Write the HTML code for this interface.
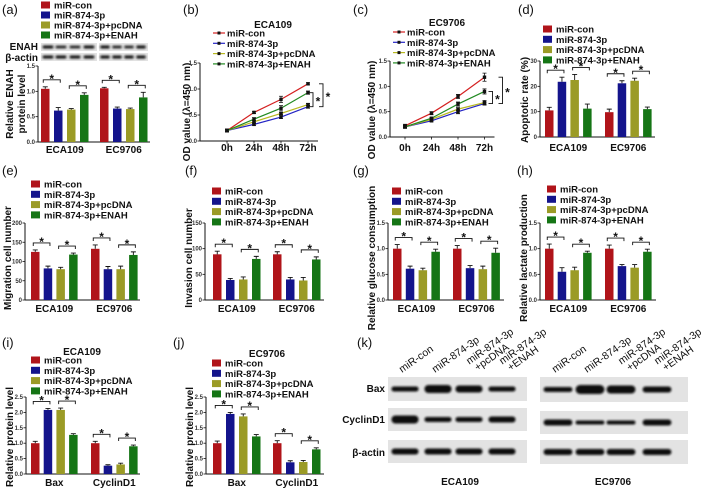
<!DOCTYPE html>
<html><head><meta charset="utf-8"><style>
html,body{margin:0;padding:0;background:#fff;}
svg{display:block;font-family:"Liberation Sans",Arial,sans-serif;}
.pl{font-size:13px;fill:#111;}
.yl{font-size:10px;font-weight:bold;fill:#111;}
.tt{font-size:10px;font-weight:bold;fill:#111;}
</style></head><body>
<svg id="fig" width="709" height="488" viewBox="0 0 709 488" xmlns="http://www.w3.org/2000/svg">
<defs><filter id="bl" x="-20%" y="-60%" width="140%" height="220%"><feGaussianBlur stdDeviation="1.1"/></filter></defs>
<rect width="709" height="488" fill="#fff"/>
<text class="pl" x="2" y="14">(a)</text>
<text class="pl" x="183" y="14">(b)</text>
<text class="pl" x="353" y="14">(c)</text>
<text class="pl" x="518" y="14">(d)</text>
<text class="pl" x="2" y="175">(e)</text>
<text class="pl" x="185" y="175">(f)</text>
<text class="pl" x="353" y="175">(g)</text>
<text class="pl" x="517" y="175">(h)</text>
<text class="pl" x="2" y="347">(i)</text>
<text class="pl" x="173" y="347">(j)</text>
<text class="pl" x="357" y="347">(k)</text>

<text class="yl" transform="translate(13,104) rotate(-90)" text-anchor="middle">Relative ENAH</text>
<text class="yl" transform="translate(25,104) rotate(-90)" text-anchor="middle">protein level</text>
<text class="yl" transform="translate(190,112) rotate(-90)" text-anchor="middle">OD value (λ=450 nm)</text>
<text class="yl" transform="translate(375,110) rotate(-90)" text-anchor="middle">OD value (λ=450 nm)</text>
<text class="yl" transform="translate(528,100) rotate(-90)" text-anchor="middle">Apoptotic rate (%)</text>
<text class="yl" transform="translate(11,258) rotate(-90)" text-anchor="middle">Migration cell number</text>
<text class="yl" transform="translate(192,258) rotate(-90)" text-anchor="middle">Invasion cell number</text>
<text class="yl" transform="translate(375,258) rotate(-90)" text-anchor="middle">Relative glucose consumption</text>
<text class="yl" transform="translate(527,258) rotate(-90)" text-anchor="middle">Relative lactate production</text>
<text class="yl" transform="translate(13,437) rotate(-90)" text-anchor="middle">Relative protein level</text>
<text class="yl" transform="translate(193,437) rotate(-90)" text-anchor="middle">Relative protein level</text>

<text class="tt" x="273" y="28" text-anchor="middle">ECA109</text>
<text class="tt" x="447" y="26" text-anchor="middle">EC9706</text>
<text class="tt" x="82" y="355" text-anchor="middle">ECA109</text>
<text class="tt" x="267" y="357" text-anchor="middle">EC9706</text>

<text class="tt" x="38" y="50" text-anchor="end">ENAH</text>
<text class="tt" x="38" y="61" text-anchor="end">β-actin</text>
<text class="tt" x="385" y="392" text-anchor="end">Bax</text>
<text class="tt" x="385" y="423" text-anchor="end">CyclinD1</text>
<text class="tt" x="385" y="456" text-anchor="end">β-actin</text>
<text class="tt" x="460" y="485" text-anchor="middle">ECA109</text>
<text class="tt" x="613" y="485" text-anchor="middle">EC9706</text>
</svg>
<script>
const NS='http://www.w3.org/2000/svg';
const svg=document.getElementById('fig');
const COLORS=['#b0141a','#14148c','#9b9b26','#157515'];
const LCOLORS=['#d42020','#2424c4','#b8b820','#228a22'];
const seriesNames=['miR-con','miR-874-3p','miR-874-3p+pcDNA','miR-874-3p+ENAH'];
const groupsCell=['ECA109','EC9706'];
const groupsProt=['Bax','CyclinD1'];
const timeLabels=['0h','24h','48h','72h'];

// (a) ENAH protein
const aCon=[1.05,1.06], aMir=[0.62,0.66], aPc=[0.64,0.65], aEnah=[0.93,0.88];
const aErr=[[0.04,0.02],[0.06,0.03],[0.02,0.02],[0.04,0.1]];
const aTicks=['0.0','0.5','1.0','1.5'];
// (b) OD ECA109
const bCon=[0.2,0.55,0.8,1.1], bMir=[0.2,0.32,0.46,0.66], bPc=[0.2,0.37,0.53,0.7], bEnah=[0.2,0.42,0.63,0.93];
const bErr=[[0.03,0.02,0.06,0.02],[0.03,0.02,0.03,0.03],[0.02,0.02,0.02,0.02],[0.02,0.03,0.05,0.03]];
const bTicks=['0.0','0.5','1.0','1.5'];
// (c) OD EC9706
const cCon=[0.22,0.47,0.8,1.18], cMir=[0.2,0.32,0.5,0.66], cPc=[0.2,0.35,0.55,0.68], cEnah=[0.2,0.37,0.65,0.9];
const cErr=[[0.03,0.03,0.04,0.08],[0.03,0.02,0.04,0.03],[0.02,0.02,0.03,0.04],[0.02,0.02,0.04,0.05]];
const cTicks=['0.0','0.5','1.0','1.5'];
// (d) apoptosis
const dCon=[10.5,9.8], dMir=[21.8,21.2], dPc=[22.5,22.2], dEnah=[11.2,11.0];
const dErr=[[1.2,1.2],[1.8,1.0],[2.2,1.0],[1.8,0.8]];
const dTicks=['0','10','20','30'];
// (e) migration
const eCon=[125,133], eMir=[82,80], ePc=[80,80], eEnah=[118,117];
const eErr=[[5,10],[6,7],[5,8],[4,8]];
const eTicks=['0','50','100','150','200'];
// (f) invasion
const fCon=[89,89], fMir=[39,40], fPc=[40,38], fEnah=[80,79];
const fErr=[[6,5],[3,4],[5,6],[5,5]];
const fTicks=['0','50','100','150'];
// (g) glucose
const gCon=[1.0,1.0], gMir=[0.61,0.62], gPc=[0.58,0.6], gEnah=[0.94,0.92];
const gErr=[[0.08,0.06],[0.05,0.05],[0.04,0.06],[0.05,0.09]];
const gTicks=['0.0','0.5','1.0','1.5'];
// (h) lactate
const hCon=[1.0,1.0], hMir=[0.55,0.66], hPc=[0.58,0.63], hEnah=[0.92,0.94];
const hErr=[[0.09,0.07],[0.08,0.03],[0.06,0.06],[0.03,0.05]];
const hTicks=['0.0','0.5','1.0','1.5'];
// (i) protein ECA109
const iCon=[1.0,1.0], iMir=[2.08,0.27], iPc=[2.08,0.31], iEnah=[1.27,0.9];
const iErr=[[0.06,0.06],[0.05,0.03],[0.06,0.04],[0.04,0.04]];
const iTicks=['0.0','0.5','1.0','1.5','2.0','2.5'];
// (j) protein EC9706
const jCon=[1.0,1.0], jMir=[1.95,0.38], jPc=[1.87,0.39], jEnah=[1.22,0.8];
const jErr=[[0.07,0.08],[0.05,0.05],[0.08,0.05],[0.06,0.05]];
const jTicks=['0.0','0.5','1.0','1.5','2.0','2.5'];

function mk(tag,attrs,parent){const e=document.createElementNS(NS,tag);for(const k in attrs)e.setAttribute(k,attrs[k]);(parent||svg).appendChild(e);return e;}
function txt(s,attrs,parent){const e=mk('text',attrs,parent);e.textContent=s;return e;}

function legend(id,x,y,dy,isLine){
  const g=mk('g',{});
  
  
  for(let s=0;s<4;s++){
    const cy=y+s*dy;
    if(isLine){
      const l=mk('line',{x1:x,x2:x+12,y1:cy,y2:cy,stroke:LCOLORS[s],'stroke-width':1.2},g);
      
      
      const m=mk('rect',{x:x+4.5,y:cy-1.5,width:3,height:3,fill:'#111'},g);
      
      
    }else{
      const r=mk('rect',{x:x,y:cy-3.5,width:9,height:7,fill:COLORS[s]},g);
      
      
    }
    const t=txt(seriesNames[s],{x:x+(isLine?14:13),y:cy+3.5,'font-size':'9.5','font-weight':'bold',fill:'#111'},g);
    
    
  }
}

function yAxis(id,ax,y0,yT,ticks,vmax){
  const g=mk('g',{});
  
  
  const l=mk('line',{x1:ax,x2:ax,y1:yT,y2:y0,stroke:'#111','stroke-width':1},g);
  
  
  ticks.forEach(function(tl){
    const v=parseFloat(tl);const y=y0-(y0-yT)*v/vmax;
    const tk=mk('line',{x1:ax-2.5,x2:ax,y1:y,y2:y,stroke:'#111','stroke-width':0.8},g);
    
    
    const t=txt(tl,{x:ax-3,y:y+2,'font-size':'6','font-weight':'bold','text-anchor':'end',fill:'#333'},g);
    
    
  });
}

function star(x,y,parent){
  const t=txt('*',{x:x,y:y,'font-size':'12','font-weight':'bold','text-anchor':'middle',fill:'#111'},parent);
  
  
}

function barChart(id,c,series,errs,groups,ticks){
  const ys=function(v){return c.y0-(c.y0-c.yT)*v/c.vmax;};
  yAxis(id,c.ax,c.y0,c.yT,ticks,c.vmax);
  const g=mk('g',{});
  
  
  const xl=mk('line',{x1:c.ax,x2:c.xEnd,y1:c.y0,y2:c.y0,stroke:'#111','stroke-width':1},g);
  
  
  groups.forEach(function(gn,gi){
    const tops=[];
    for(let s=0;s<4;s++){
      const v=series[s][gi],e=errs[s][gi];
      const x=c.gs[gi]+s*c.step, cx=x+c.bw/2;
      const b=mk('rect',{x:x,y:ys(v),width:c.bw,height:c.y0-ys(v),fill:COLORS[s]},g);
      
      
      const eb=mk('path',{d:'M'+cx+' '+ys(v)+'V'+ys(v+e)+'M'+(cx-2.5)+' '+ys(v+e)+'H'+(cx+2.5),stroke:'#111','stroke-width':0.9,fill:'none'},g);
      
      
      tops.push({cx:cx,y:ys(v+e)});
    }
    [[0,1],[2,3]].forEach(function(p){
      const ly=Math.min(tops[p[0]].y,tops[p[1]].y)-7;
      const x1=tops[p[0]].cx-2,x2=tops[p[1]].cx+2;
      const br=mk('path',{d:'M'+x1+' '+(ly+3)+'V'+ly+'H'+x2+'V'+(ly+3),stroke:'#111','stroke-width':0.9,fill:'none'},g);
      
      
      star((x1+x2)/2,ly+3,g);
    });
    const gl=txt(gn,{x:c.gs[gi]+(3*c.step+c.bw)/2,y:c.labY,'font-size':'10','font-weight':'bold','text-anchor':'middle',fill:'#111'},g);
    
    
  });
}

function lineChart(id,c,series,errs,ticks){
  const ys=function(v){return c.y0-(c.y0-c.yT)*v/c.vmax;};
  const xs=function(i){return c.x0+i*c.dx;};
  yAxis(id,c.ax,c.y0,c.yT,ticks,c.vmax);
  const g=mk('g',{});
  
  
  const xl=mk('line',{x1:c.ax,x2:xs(timeLabels.length-1)+10,y1:c.y0,y2:c.y0,stroke:'#111','stroke-width':1},g);
  
  
  timeLabels.forEach(function(tl,i){
    const tk=mk('line',{x1:xs(i),x2:xs(i),y1:c.y0,y2:c.y0+2.5,stroke:'#111','stroke-width':0.8},g);
    
    
    const t=txt(tl,{x:xs(i),y:c.labY,'font-size':'10','font-weight':'bold','text-anchor':'middle',fill:'#111'},g);
    
    
  });
  series.forEach(function(sv,s){
    const pts=sv.map(function(v,i){return xs(i)+','+ys(v);}).join(' ');
    const pl=mk('polyline',{points:pts,fill:'none',stroke:LCOLORS[s],'stroke-width':1.2},g);
    
    
    sv.forEach(function(v,i){
      const e=errs[s][i];
      const eb=mk('path',{d:'M'+xs(i)+' '+ys(v-e)+'V'+ys(v+e)+'M'+(xs(i)-2)+' '+ys(v+e)+'H'+(xs(i)+2)+'M'+(xs(i)-2)+' '+ys(v-e)+'H'+(xs(i)+2),stroke:'#111','stroke-width':0.8,fill:'none'},g);
      
      
      const m=mk('rect',{x:xs(i)-1.7,y:ys(v)-1.7,width:3.4,height:3.4,fill:'#111'},g);
      
      
    });
  });
  const last=timeLabels.length-1, lx=xs(last);
  [[3,1,c.b1],[0,1,c.b2]].forEach(function(p){
    const ya=ys(series[p[0]][last]), yb=ys(series[p[1]][last]);
    const bx=lx+p[2];
    const br=mk('path',{d:'M'+(bx-4)+' '+ya+'H'+bx+'V'+yb+'H'+(bx-4),stroke:'#111','stroke-width':0.9,fill:'none'},g);
    
    
    star(bx+5,(ya+yb)/2+6,g);
  });
}

function blotBox(id,x,y,w,h,lanes,thick){
  const g=mk('g',{});
  
  
  const r=mk('rect',{x:x,y:y,width:w,height:h,fill:'#e3e3e3'},g);
  
  
  lanes.forEach(function(cx,i){
    const bw=w/lanes.length*0.78;
    const b=mk('rect',{x:cx-bw/2,y:y+h/2-thick[i]/2,width:bw,height:thick[i],rx:thick[i]/2,fill:'#111',filter:'url(#bl)'},g);
    
    
  });
}

// legends
legend('a',41,5,10,false);
legend('b',213,33,10.3,true);
legend('c',393,32,10.3,true);
legend('d',543,29,10.3,false);
legend('e',31,184,10.3,false);
legend('f',212,191,10.3,false);
legend('g',392,191,10.3,false);
legend('h',547,189,10.3,false);
legend('i',31,360,10.3,false);
legend('j',212,363,10.3,false);

// blots (a)
blotBox('a-enah-1',41,43,56,8,[48,61,75,89],[3,2.5,2.5,3]);
blotBox('a-enah-2',99,43,49,8,[105,117,129,141],[3,2.5,2.5,3]);
blotBox('a-actin-1',41,53,56,8,[48,61,75,89],[3,3,3,3]);
blotBox('a-actin-2',99,53,49,8,[105,117,129,141],[3,3,3,3]);

barChart('a',{ax:38,y0:142,yT:66,vmax:1.5,gs:[41,100],step:13,bw:8.5,xEnd:150,labY:153},[aCon,aMir,aPc,aEnah],aErr,groupsCell,aTicks);
lineChart('b',{ax:200,y0:141,yT:63,vmax:1.5,x0:227,dx:27,labY:151,b1:5,b2:15},[bCon,bMir,bPc,bEnah],bErr,bTicks);
lineChart('c',{ax:390,y0:137,yT:61,vmax:1.5,x0:405,dx:26.5,labY:151,b1:8,b2:18},[cCon,cMir,cPc,cEnah],cErr,cTicks);
barChart('d',{ax:540,y0:137,yT:61,vmax:30,gs:[545,605],step:12.7,bw:8.5,xEnd:655,labY:151},[dCon,dMir,dPc,dEnah],dErr,groupsCell,dTicks);
barChart('e',{ax:25,y0:300,yT:223,vmax:200,gs:[31,91],step:12.7,bw:8.5,xEnd:140,labY:312},[eCon,eMir,ePc,eEnah],eErr,groupsCell,eTicks);
barChart('f',{ax:205,y0:300,yT:223,vmax:150,gs:[213,273],step:13,bw:8.5,xEnd:324,labY:312},[fCon,fMir,fPc,fEnah],fErr,groupsCell,fTicks);
barChart('g',{ax:388,y0:300,yT:223,vmax:1.5,gs:[393,453],step:12.8,bw:8.5,xEnd:504,labY:312},[gCon,gMir,gPc,gEnah],gErr,groupsCell,gTicks);
barChart('h',{ax:540,y0:300,yT:223,vmax:1.5,gs:[545,605],step:12.7,bw:8.5,xEnd:656,labY:312},[hCon,hMir,hPc,hEnah],hErr,groupsCell,hTicks);
barChart('i',{ax:26,y0:474,yT:397,vmax:2.5,gs:[31,91],step:12.7,bw:8.5,xEnd:140,labY:486},[iCon,iMir,iPc,iEnah],iErr,groupsProt,iTicks);
barChart('j',{ax:206,y0:474,yT:397,vmax:2.5,gs:[213,273],step:13,bw:8.5,xEnd:324,labY:486},[jCon,jMir,jPc,jEnah],jErr,groupsProt,jTicks);

// (k) blots
const k1=[405,438,469,502], k2=[558,590,621,657];
blotBox('k-bax-1',388,377,139,24,k1,[5,8,7,5]);
blotBox('k-cyc-1',388,408,139,23,k1,[8,5,5,6]);
blotBox('k-actin-1',388,440,139,23,k1,[6,6,6,6]);
blotBox('k-bax-2',540,377,148,25,k2,[5,9,8,6]);
blotBox('k-cyc-2',540,411,148,23,k2,[6,4,4,6]);
blotBox('k-actin-2',540,440,148,24,k2,[6,6,6,6]);

const laneLabels=[['miR-con'],['miR-874-3p'],['miR-874-3p','+pcDNA'],['miR-874-3p','+ENAH']];
[k1,k2].forEach(function(lanes,bi){
  lanes.forEach(function(cx,li){
    const lines=laneLabels[li];
    const ox=(lines.length===2)?cx+6:cx-3;
    const g=mk('g',{transform:'translate('+ox+',373) rotate(-35)'});
    
    
    lines.forEach(function(s,k){
      const dy=(lines.length===2)?(k===0?-10:0):0;
      const dx=(lines.length===2&&k===1)?3:0;
      const t=txt(s,{x:dx,y:dy,'font-size':'10.5',fill:'#111'},g);
      
      
    });
  });
});
</script>
</body></html>
